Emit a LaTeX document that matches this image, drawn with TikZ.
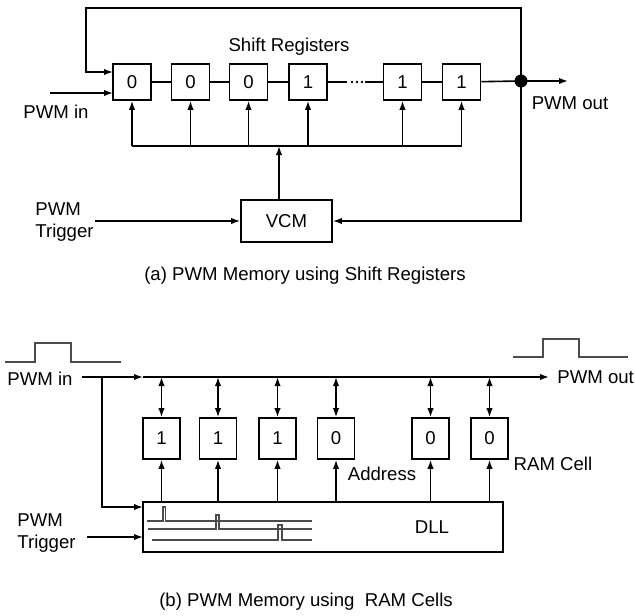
\documentclass[tikz,border=0pt]{standalone}
\usepackage{fontspec}
\setmainfont{Liberation Sans}
\usetikzlibrary{arrows.meta}
\tikzset{
  wire/.style={line width=0.8pt},
  arr/.style={wire,-{Latex[length=4.5pt,width=3.2pt]}},
  darr/.style={wire,{Latex[length=4.5pt,width=3.2pt]}-{Latex[length=4.5pt,width=3.2pt]}},
  reg/.style={draw,line width=0.8pt,minimum width=19pt,minimum height=18pt,inner sep=0pt,font=\fontsize{9.3}{11}\selectfont},
  ram/.style={draw,line width=0.8pt,minimum width=18.5pt,minimum height=20.5pt,inner sep=0pt,font=\fontsize{9.3}{11}\selectfont},
  lbl/.style={inner sep=0pt,font=\fontsize{9.3}{11}\selectfont},
  pulse/.style={line width=0.7pt,draw=black!70},
}
\begin{document}
\begin{tikzpicture}[x=0.5pt,y=-0.5pt]
\useasboundingbox (0,0) rectangle (635,615);
% ---------- (a) ----------
\node[reg] (r1) at (132,82) {0};
\node[reg] (r2) at (190.5,82) {0};
\node[reg] (r3) at (248.5,82) {0};
\node[reg] (r4) at (308,82) {1};
\node[reg] (r5) at (402.5,82) {1};
\node[reg] (r6) at (461.5,82) {1};
\fill (521,81) circle[radius=6.5] coordinate (dot);
\coordinate (fbR) at (521,8);
\coordinate (fbL) at (86,8);
\coordinate (r1inA) at (113,72);
\coordinate (r1inB) at (113,93);
\coordinate (pinA) at (50,93);
\coordinate (poutA) at (568,81);
\coordinate (vcmfb) at (521,221);
\coordinate (busy) at (0,146);
\coordinate (dotsA) at (347,82);
\coordinate (dotsB) at (365,82);
\node[draw,line width=0.8pt,minimum width=45.5pt,minimum height=21pt,inner sep=0pt,font=\fontsize{9.3}{11}\selectfont] (vcm) at (286.5,221) {VCM};
\coordinate (trigA) at (95,221);

\draw[wire] (r1) -- (r2);
\draw[wire] (r2) -- (r3);
\draw[wire] (r3) -- (r4);
\draw[wire] (r4.east) -- (dotsA);
\draw[wire] (dotsB) -- (r5.west);
\fill (352,82) circle[radius=1.3] (357,82) circle[radius=1.3] (362,82) circle[radius=1.3];
\draw[wire] (r5) -- (r6);
\draw[wire] (r6) -- (dot);
\draw[arr] (dot) -- (poutA);
\draw[arr] (dot) -- (fbR) -- (fbL) |- (r1inA);
\draw[arr] (pinA) -- (r1inB);
\draw[arr] (dot) -- (vcmfb) -- (vcm.east);
\draw[wire] (r1.south |- busy) -- (r6.south |- busy);
\foreach \r in {r1,r2,r3,r4,r5,r6}{
  \draw[arr] (\r.south |- busy) -- (\r.south);
}
\draw[arr] ([xshift=-3.75pt]vcm.north) -- ([xshift=-3.75pt]vcm.north |- busy);
\draw[arr] (trigA) -- (vcm.west);

\node[lbl] (sr) at (289,47) {Shift Registers};
\node[lbl] (pina) at (56,112) {PWM in};
\node[lbl] (pouta) at (570,103) {PWM out};
\node[lbl,align=left,anchor=west,font=\fontsize{9.3}{10.6}\selectfont] (trga) at (35,222) {PWM\\Trigger};
\node[lbl] (capa) at (305,276) {(a) PWM Memory using Shift Registers};

% ---------- (b) ----------
\draw[pulse] (5,362) -- (35,362) -- (35,343) -- (71,343) -- (71,362) -- (121,362);
\draw[pulse] (513,357) -- (543,357) -- (543,339) -- (579,339) -- (579,357) -- (628,357);

\node[lbl] (pinb) at (40,379) {PWM in};
\node[lbl,anchor=west] (poutb) at (557,377) {PWM out};
\coordinate (mainA) at (82,377);
\coordinate (mainM) at (143,377);
\coordinate (mainB) at (549,377);
\coordinate (brA) at (102,377);
\coordinate (mainy) at (0,377);
\draw[arr] (mainA) -- (mainM);
\draw[arr] (mainM) -- (mainB);

\node[draw,line width=0.8pt,minimum width=180pt,minimum height=25pt,inner sep=0pt] (dll) at (323,527) {};
\node[lbl] (dlltxt) at (432,527) {DLL};
\coordinate (dllinA) at (143,507);
\coordinate (dllinB) at (143,537);
\coordinate (trgB) at (87,537);
\draw[arr] (brA) |- (dllinA);
\draw[arr] (trgB) -- (dllinB);

\node[ram] (m1) at (161.5,438.5) {1};
\node[ram] (m2) at (218,438.5) {1};
\node[ram] (m3) at (277.5,438.5) {1};
\node[ram] (m4) at (336,438.5) {0};
\node[ram] (m5) at (430.5,438.5) {0};
\node[ram] (m6) at (489.5,438.5) {0};
\foreach \m in {m1,m2,m3,m4,m5,m6}{
  \draw[darr] (\m.north |- mainy) -- (\m.north);
  \draw[arr] (\m.south |- dll.north) -- (\m.south);
}
\node[lbl] (addr) at (382,474) {Address};
\node[lbl] (ramc) at (553,464) {RAM Cell};
\node[lbl,align=left,anchor=west,font=\fontsize{9.3}{10.6}\selectfont] (trgb) at (17,533) {PWM\\Trigger};

\draw[pulse] (147,521) -- (163,521) -- (163,507) -- (165.5,507) -- (165.5,521) -- (312,521);
\draw[pulse] (148,529) -- (216,529) -- (216,515) -- (219,515) -- (219,529) -- (312,529);
\draw[pulse] (152,540) -- (278,540) -- (278,525) -- (282,525) -- (282,540) -- (312,540);

\node[lbl] (capb) at (306,602) {(b) PWM Memory using\ \ RAM Cells};
\end{tikzpicture}
\end{document}
